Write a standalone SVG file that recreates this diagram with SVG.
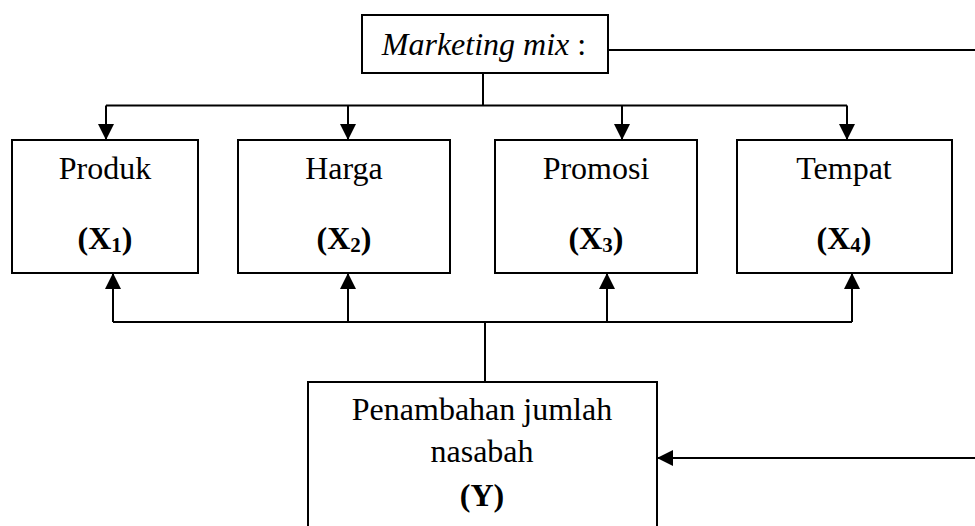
<svg xmlns="http://www.w3.org/2000/svg" width="975" height="526" viewBox="0 0 975 526">
<style>
.box{fill:#fff;stroke:#000;stroke-width:2}
.t{font-family:"Liberation Serif","Times New Roman",serif;font-size:32px;fill:#000;text-anchor:middle}
.b{font-weight:bold}
.sub{font-size:21px}
.ln{fill:none;stroke:#000;stroke-width:2}
</style>
<defs>
<marker id="ah" markerWidth="16" markerHeight="16" viewBox="0 0 16 16" refX="16" refY="8" orient="auto" markerUnits="userSpaceOnUse">
<path d="M0,0 L16,8 L0,16 Z" fill="#000"/>
</marker>
</defs>
<g id="connectors">
<path class="ln" d="M483,73 V105.5"/>
<path class="ln" d="M106,105.5 H847"/>
<path class="ln" d="M106,105.5 V140" marker-end="url(#ah)"/>
<path class="ln" d="M348,105.5 V140" marker-end="url(#ah)"/>
<path class="ln" d="M622,105.5 V140" marker-end="url(#ah)"/>
<path class="ln" d="M847,105.5 V140" marker-end="url(#ah)"/>
<path class="ln" d="M608,50 H975"/>
<path class="ln" d="M113,322 H852"/>
<path class="ln" d="M113,322 V273" marker-end="url(#ah)"/>
<path class="ln" d="M348,322 V273" marker-end="url(#ah)"/>
<path class="ln" d="M607,322 V273" marker-end="url(#ah)"/>
<path class="ln" d="M852,322 V273" marker-end="url(#ah)"/>
<path class="ln" d="M485,322 V382"/>
<path class="ln" d="M975,458 H657" marker-end="url(#ah)"/>
</g>
<g id="marketing">
<rect class="box" x="362" y="15" width="246" height="58"/>
<text class="t" x="484" y="55"><tspan font-style="italic">Marketing mix</tspan> :</text>
</g>
<g id="produk">
<rect class="box" x="12" y="140" width="186" height="133"/>
<text class="t" x="105" y="179">Produk</text>
<text class="t b" x="105" y="249">(X<tspan class="sub" dy="3">1</tspan><tspan dy="-3">)</tspan></text>
</g>
<g id="harga">
<rect class="box" x="238" y="140" width="212" height="133"/>
<text class="t" x="344" y="179">Harga</text>
<text class="t b" x="344" y="249">(X<tspan class="sub" dy="3">2</tspan><tspan dy="-3">)</tspan></text>
</g>
<g id="promosi">
<rect class="box" x="495" y="140" width="202" height="133"/>
<text class="t" x="596" y="179">Promosi</text>
<text class="t b" x="596" y="249">(X<tspan class="sub" dy="3">3</tspan><tspan dy="-3">)</tspan></text>
</g>
<g id="tempat">
<rect class="box" x="737" y="140" width="215" height="133"/>
<text class="t" x="844" y="179">Tempat</text>
<text class="t b" x="844" y="249">(X<tspan class="sub" dy="3">4</tspan><tspan dy="-3">)</tspan></text>
</g>
<g id="nasabah">
<rect class="box" x="308" y="382" width="349" height="160"/>
<text class="t" x="482" y="420">Penambahan jumlah</text>
<text class="t" x="482" y="462">nasabah</text>
<text class="t b" x="482" y="506">(Y)</text>
</g>
</svg>
